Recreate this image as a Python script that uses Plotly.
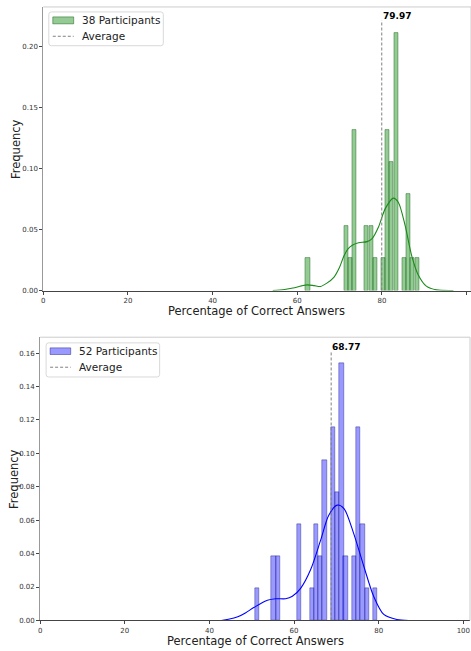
import plotly.graph_objects as go

W, H = 471, 651

# ---------------- data: top chart (38 participants) ----------------
top_n = 38
top_mean = 79.97
top_bin_centers = [62.5, 71.5, 72.45, 73.4, 76.4, 77.4, 78.4, 80.3, 81.3, 82.3, 83.3, 85.4, 86.35, 87.3, 88.3]
top_counts = [1, 2, 1, 5, 2, 2, 1, 1, 5, 4, 8, 1, 3, 1, 1]
top_kde_x = [54.2, 57, 59, 61, 62.4, 64, 65.5, 67, 68.7, 70, 71, 72, 73, 74.5, 76.5, 77.7,
             79.2, 80.8, 82.7, 83.9, 85.5, 87.0, 88.6, 90.5, 92.9, 96.9]
top_kde_y = [0.0, 0.0008, 0.002, 0.0038, 0.0046, 0.0040, 0.0033, 0.006, 0.011, 0.019, 0.028,
             0.034, 0.037, 0.039, 0.040, 0.0425, 0.052, 0.067, 0.0756, 0.072, 0.053, 0.029,
             0.0127, 0.0036, 0.0005, 0.0]

# ---------------- data: bottom chart (52 participants) ----------------
bot_n = 52
bot_mean = 68.77
bot_bin_centers = [51.3, 55.2, 56.2, 61.2, 64.2, 65.2, 66.2, 67.2, 69.2, 70.2, 71.25, 72.2,
                   74.2, 75.2, 76.2, 77.2, 79.2]
bot_counts = [1, 2, 2, 3, 1, 3, 2, 5, 6, 4, 8, 2, 2, 6, 3, 1, 1]
bot_kde_x = [42.8, 44.5, 46.7, 48.5, 50.6, 53.7, 55.7, 58.0, 59.6, 61.6, 63.9, 66.3, 68.2,
             70.2, 71.8, 74.1, 76.5, 78.8, 81.2, 84.3, 87.1]
bot_kde_y = [0.0, 0.0007, 0.0022, 0.0045, 0.0079, 0.0121, 0.013, 0.013, 0.0145, 0.0194, 0.0303,
             0.0482, 0.063, 0.069, 0.067, 0.052, 0.0323, 0.0145, 0.0036, 0.0006, 0.0]

x_ticks = [0, 20, 40, 60, 80, 100]
top_y_ticks = [0.00, 0.05, 0.10, 0.15, 0.20]
bot_y_ticks = [0.00, 0.02, 0.04, 0.06, 0.08, 0.10, 0.12, 0.14, 0.16]

top_label = f"{top_n} Participants"
bot_label = f"{bot_n} Participants"
avg_label = "Average"

top_freq = [c / top_n for c in top_counts]
bot_freq = [c / bot_n for c in bot_counts]
top_max = max(top_freq)
bot_max = max(bot_freq)

FONT = "DejaVu Sans"
GREEN_FILL = "rgba(0,128,0,0.42)"
GREEN_EDGE = "rgba(0,80,0,0.55)"
BLUE_FILL = "rgba(0,0,255,0.4)"
BLUE_EDGE = "rgba(0,0,120,0.5)"

fig = go.Figure()

# ---- top chart ----
fig.add_trace(go.Bar(
    x=top_bin_centers, y=top_freq, width=0.95,
    marker=dict(color=GREEN_FILL, line=dict(color=GREEN_EDGE, width=0.7)),
    name=top_label, xaxis="x", yaxis="y", showlegend=False))
fig.add_trace(go.Scatter(
    x=top_kde_x, y=top_kde_y, mode="lines", line=dict(color="#1a8a1a", width=1.1, shape="spline", smoothing=0.8),
    showlegend=False, xaxis="x", yaxis="y", hoverinfo="skip"))
fig.add_trace(go.Scatter(
    x=[top_mean, top_mean], y=[0, top_max * 1.05], mode="lines",
    line=dict(color="gray", width=1, dash="3px,2px"),
    name=avg_label, xaxis="x", yaxis="y", showlegend=False))

# ---- bottom chart ----
fig.add_trace(go.Bar(
    x=bot_bin_centers, y=bot_freq, width=1.0,
    marker=dict(color=BLUE_FILL, line=dict(color=BLUE_EDGE, width=0.7)),
    name=bot_label, xaxis="x2", yaxis="y2", showlegend=False))
fig.add_trace(go.Scatter(
    x=bot_kde_x, y=bot_kde_y, mode="lines", line=dict(color="#0000ff", width=1.1, shape="spline", smoothing=0.8),
    showlegend=False, xaxis="x2", yaxis="y2", hoverinfo="skip"))
fig.add_trace(go.Scatter(
    x=[bot_mean, bot_mean], y=[0, bot_max * 1.05], mode="lines",
    line=dict(color="gray", width=1, dash="3px,2px"),
    name=avg_label, xaxis="x2", yaxis="y2", showlegend=False))


def px_x(p):
    return p / W


def px_y(p):
    return 1 - p / H


tickfont = dict(family=FONT, size=7, color="#333")
xcommon = dict(tickvals=x_ticks, ticks="outside", ticklen=3, tickcolor="#444", tickfont=tickfont,
               showgrid=False, zeroline=False, showline=True, linecolor="#444", linewidth=1)
ycommon = dict(ticks="outside", ticklen=3, tickcolor="#444", tickfont=tickfont, tickformat=".2f",
               showgrid=False, zeroline=False, showline=True, linecolor="#999", linewidth=1)

fig.update_layout(
    width=W, height=H, margin=dict(l=0, r=0, t=0, b=0),
    paper_bgcolor="white", plot_bgcolor="white",
    font=dict(family=FONT),
    barmode="overlay", bargap=0,
    showlegend=False,
    xaxis=dict(domain=[px_x(41.5), 1.0], range=[0, (W - 41.5) / 4.25], anchor="y", **xcommon),
    yaxis=dict(domain=[px_y(292.3), px_y(7)], range=[0, 0.232], tickvals=top_y_ticks, anchor="x", **ycommon),
    xaxis2=dict(domain=[px_x(38.3), px_x(470)], range=[0, (470 - 38.3) / 4.25], anchor="y2", **xcommon),
    yaxis2=dict(domain=[px_y(624.3), px_y(339.3)], range=[0, 0.1695], tickvals=bot_y_ticks, anchor="x2", **ycommon),
)

# top/right spines (light)
for xr, yr in [("x domain", "y domain"), ("x2 domain", "y2 domain")]:
    fig.add_shape(type="line", xref=xr, yref=yr, x0=0, x1=1, y0=1, y1=1, line=dict(color="#cccccc", width=1))
    fig.add_shape(type="line", xref=xr, yref=yr, x0=1, x1=1, y0=0, y1=1, line=dict(color="#cccccc", width=1))


# ---- legends (matplotlib style box, drawn in pixel positions) ----
def rounded_box(x0, y0, x1, y1, r=2.5):
    X = lambda p: px_x(p)
    Y = lambda p: px_y(p)
    path = (f"M {X(x0 + r)},{Y(y0)} L {X(x1 - r)},{Y(y0)} Q {X(x1)},{Y(y0)} {X(x1)},{Y(y0 + r)} "
            f"L {X(x1)},{Y(y1 - r)} Q {X(x1)},{Y(y1)} {X(x1 - r)},{Y(y1)} "
            f"L {X(x0 + r)},{Y(y1)} Q {X(x0)},{Y(y1)} {X(x0)},{Y(y1 - r)} "
            f"L {X(x0)},{Y(y0 + r)} Q {X(x0)},{Y(y0)} {X(x0 + r)},{Y(y0)} Z")
    fig.add_shape(type="path", xref="paper", yref="paper", path=path,
                  fillcolor="rgba(255,255,255,0.85)", line=dict(color="#d9d9d9", width=1))


def legend(box, patch, label, fill, edge, row1_y, row2_y, text_x):
    rounded_box(*box)
    px0, py0, px1, py1 = patch
    fig.add_shape(type="rect", xref="paper", yref="paper",
                  x0=px_x(px0), x1=px_x(px1), y0=px_y(py1), y1=px_y(py0),
                  fillcolor=fill, line=dict(color=edge, width=0.8))
    fig.add_shape(type="line", xref="paper", yref="paper",
                  x0=px_x(px0), x1=px_x(px1), y0=px_y(row2_y), y1=px_y(row2_y),
                  line=dict(color="gray", width=1, dash="3px,2px"))
    lfont = dict(family=FONT, size=10.5, color="#222")
    fig.add_annotation(x=px_x(text_x), y=px_y(row1_y), xref="paper", yref="paper", text=label,
                       showarrow=False, xanchor="left", yanchor="middle", font=lfont, borderpad=0)
    fig.add_annotation(x=px_x(text_x), y=px_y(row2_y), xref="paper", yref="paper", text=avg_label,
                       showarrow=False, xanchor="left", yanchor="middle", font=lfont, borderpad=0)


legend((47, 12, 162, 46), (51, 17, 72, 24), top_label, GREEN_FILL, GREEN_EDGE, 20.5, 36.5, 79)
legend((44.3, 345, 158.3, 379.3), (48.3, 350, 69, 356.7), bot_label, BLUE_FILL, BLUE_EDGE, 353.5, 369.5, 76.5)

# mean labels
fig.add_annotation(x=top_mean, y=top_max * 1.05, xref="x", yref="y", text=f"<b>{top_mean:.2f}</b>",
                   showarrow=False, xanchor="left", yanchor="bottom", xshift=-1, yshift=-3,
                   font=dict(family=FONT, size=9, color="black"))
fig.add_annotation(x=bot_mean, y=bot_max * 1.05, xref="x2", yref="y2", text=f"<b>{bot_mean:.2f}</b>",
                   showarrow=False, xanchor="left", yanchor="bottom", xshift=-1, yshift=-3,
                   font=dict(family=FONT, size=9, color="black"))

# axis titles
title_font = dict(family=FONT, size=11.5, color="#222")
fig.add_annotation(x=px_x(256), y=px_y(313), xref="paper", yref="paper", text="Percentage of Correct Answers",
                   showarrow=False, xanchor="center", yanchor="middle", font=title_font, borderpad=0)
fig.add_annotation(x=px_x(255), y=px_y(645), xref="paper", yref="paper", text="Percentage of Correct Answers",
                   showarrow=False, xanchor="center", yanchor="middle", font=title_font, borderpad=0)
fig.add_annotation(x=px_x(14), y=px_y(150), xref="paper", yref="paper", text="Frequency", textangle=-90,
                   showarrow=False, xanchor="center", yanchor="middle", font=title_font)
fig.add_annotation(x=px_x(12), y=px_y(482), xref="paper", yref="paper", text="Frequency", textangle=-90,
                   showarrow=False, xanchor="center", yanchor="middle", font=title_font)

fig.write_html("out.html", config={"displayModeBar": False},
               post_script="document.body.style.margin='0';document.body.style.padding='0';")
